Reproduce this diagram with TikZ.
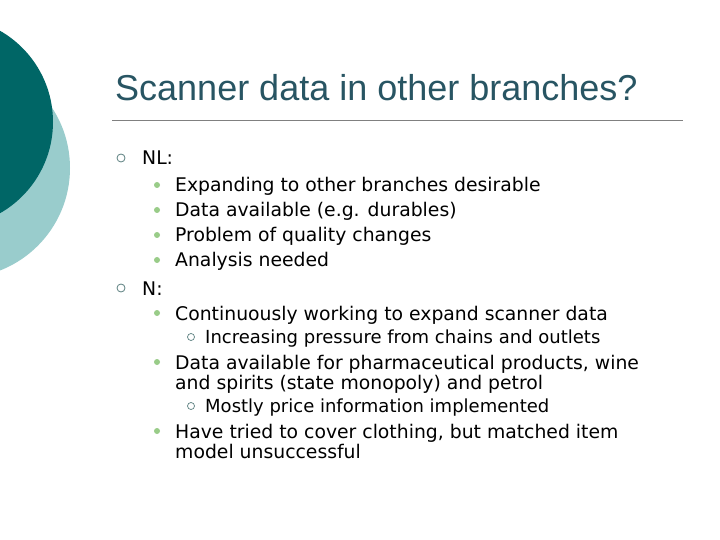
\documentclass[tikz,border=0pt]{standalone}
\usepackage{fontspec}
\setmainfont{DejaVu Sans}
\newfontfamily\titlefont{Liberation Sans}
\definecolor{darkteal}{HTML}{006666}
\definecolor{lightteal}{HTML}{99CCCC}
\definecolor{titlecol}{HTML}{285563}
\definecolor{bulgreen}{HTML}{99CC88}
\definecolor{bulone}{HTML}{5A7F7F}
\begin{document}
\begin{tikzpicture}[x=1bp,y=-1bp,
  t1/.style={anchor=base west,inner sep=0,font=\fontsize{18.8bp}{22bp}\selectfont},
  t2/.style={anchor=base west,inner sep=0,font=\fontsize{18.8bp}{22bp}\selectfont},
  t3/.style={anchor=base west,inner sep=0,font=\fontsize{18bp}{20bp}\selectfont},
  b1/.style={draw=bulone,line width=0.8bp,circle,inner sep=0,minimum size=8bp},
  b2/.style={fill=bulgreen,circle,inner sep=0,minimum size=6bp},
  b3/.style={draw=bulone,line width=0.7bp,circle,inner sep=0,minimum size=7bp}]
\useasboundingbox (0,0) rectangle (720,540);
\fill[white] (0,0) rectangle (720,540);
\fill[lightteal] (-40,168) circle (110);
\fill[darkteal] (-52,122) circle (105);
\node[anchor=base west,inner sep=0,text=titlecol,font=\titlefont\fontsize{36bp}{40bp}\selectfont] (title) at (115,101) {Scanner data in other branches?};
\draw[gray,line width=0.8bp] (112,120) -- (683,120);
% level 1
\node[b1] (a1) at (121,158) {};
\node[t1] (nl) at (142,165) {NL:};
\node[b2] (a2) at (157,185) {};
\node[t2] (l1) at (175,192) {Expanding to other branches desirable};
\node[b2] (a3) at (157,210) {};
\node[t2] (l2) at (175,217) {Data available (e.g. durables)};
\node[b2] (a4) at (157,235) {};
\node[t2] (l3) at (175,242) {Problem of quality changes};
\node[b2] (a5) at (157,260) {};
\node[t2] (l4) at (175,267) {Analysis needed};
\node[b1] (a6) at (121,288) {};
\node[t1] (n) at (142,295) {N:};
\node[b2] (a7) at (157,313) {};
\node[t2] (l5) at (175,320) {Continuously working to expand scanner data};
\node[b3] (a8) at (191,337) {};
\node[t3] (l6) at (205,343) {Increasing pressure from chains and outlets};
\node[b2] (a9) at (157,362) {};
\node[t2] (l7) at (175,369) {Data available for pharmaceutical products, wine};
\node[t2] (l8) at (175,389) {and spirits (state monopoly) and petrol};
\node[b3] (a10) at (191,406) {};
\node[t3] (l9) at (205,412) {Mostly price information implemented};
\node[b2] (a11) at (157,431) {};
\node[t2] (l10) at (175,438) {Have tried to cover clothing, but matched item};
\node[t2] (l11) at (175,458) {model unsuccessful};
\end{tikzpicture}
\end{document}
